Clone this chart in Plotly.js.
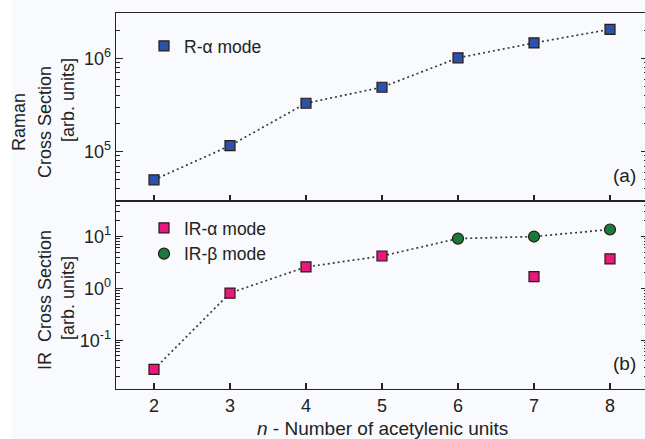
<!DOCTYPE html>
<html>
<head>
<meta charset="utf-8">
<script src="https://cdn.plot.ly/plotly-3.0.1.min.js"></script>
<style>
html,body{margin:0;padding:0;background:#f9fafd;overflow:hidden;}
#chart{width:650px;height:439px;}
</style>
</head>
<body>
<div id="chart"></div>
<script>
// ---- data ----
const nUnits = [2, 3, 4, 5, 6, 7, 8];
const ramanAlpha = [5.0e4, 1.16e5, 3.3e5, 4.9e5, 1.01e6, 1.46e6, 2.04e6];
const irAlpha = [0.0275, 0.81, 2.58, 4.2, null, 1.68, 3.69];
const irBeta = [null, null, null, null, 9.1, 9.95, 13.6];
const ramanTickVals = [1e5, 1e6];
const ramanTickText = ['10<sup>5</sup>', '10<sup>6</sup>'];
const irTickVals = [0.1, 1, 10];
const irTickText = ['10<sup>-1</sup>', '10<sup>0</sup>', '10<sup>1</sup>'];

const irTrend = nUnits.map((n, i) => irBeta[i] !== null ? irBeta[i] : irAlpha[i]);

const FONT = 'Liberation Sans, Arial, sans-serif';
const AX = '#2a2220';
const W = 650, H = 439, ML = 116, MR = 2, MT = 13, MB = 50;
const PW = W - ML - MR, PH = H - MT - MB;
const px = x => (x - ML) / PW;
const py = y => (H - MB - y) / PH;
const RRANGE = [4.472, 6.485], IRANGE = [-1.94, 1.683];

const dotLine = {color: '#3a3a3a', width: 1.7, dash: '2px,3px'};

const traces = [
  {x: nUnits, y: ramanAlpha, xaxis: 'x', yaxis: 'y', mode: 'lines', line: dotLine, showlegend: false, hoverinfo: 'skip'},
  {x: nUnits, y: ramanAlpha, xaxis: 'x', yaxis: 'y', mode: 'markers', name: 'R-α mode', legend: 'legend',
   marker: {symbol: 'square', size: 10, color: '#2b52a8', line: {color: '#2a1a14', width: 1.2}}},
  {x: nUnits, y: irTrend, xaxis: 'x2', yaxis: 'y2', mode: 'lines', line: dotLine, showlegend: false, hoverinfo: 'skip'},
  {x: nUnits, y: irAlpha, xaxis: 'x2', yaxis: 'y2', mode: 'markers', name: 'IR-α mode', legend: 'legend2',
   marker: {symbol: 'square', size: 10, color: '#e8187e', line: {color: '#2a1a14', width: 1.2}}},
  {x: nUnits, y: irBeta, xaxis: 'x2', yaxis: 'y2', mode: 'markers', name: 'IR-β mode', legend: 'legend2',
   marker: {symbol: 'circle', size: 11, color: '#1a7a3c', line: {color: '#2a1a14', width: 1.2}}}
];

const xBase = {
  range: [1.5, 8.5], domain: [0, 1], showgrid: false, zeroline: false,
  showline: true, linecolor: AX, linewidth: 1.4, mirror: true,
  ticks: 'inside', ticklen: 6, tickwidth: 1.3, tickcolor: AX,
  tickvals: nUnits, ticktext: nUnits.map(String),
  tickfont: {family: FONT, size: 18, color: '#222'}
};
// primary log axes: line, major and minor ticks (no labels)
const yBase = {
  type: 'log', showgrid: false, zeroline: false,
  showline: true, linecolor: AX, linewidth: 1.4, mirror: 'ticks',
  tickmode: 'linear', tick0: 0, dtick: 1,
  ticks: 'inside', ticklen: 7, tickwidth: 1.3, tickcolor: AX,
  showticklabels: false,
  minor: {ticks: 'inside', ticklen: 4, tickwidth: 1, tickcolor: AX, dtick: 'D1', showgrid: false}
};
// overlay axes carrying only the tick labels
const yLab = {
  type: 'log', showgrid: false, zeroline: false, showline: false,
  tickmode: 'array', ticks: '', side: 'left', ticklabelstandoff: 4,
  tickfont: {family: FONT, size: 18, color: '#222'}
};

const ann = (text, x, y, opts) => Object.assign({
  text: text, xref: 'paper', yref: 'paper', x: px(x), y: py(y),
  xanchor: 'center', yanchor: 'middle', showarrow: false,
  font: {family: FONT, size: 18, color: '#222'}
}, opts || {});

const layout = {
  width: W, height: H,
  margin: {l: ML, r: MR, t: MT, b: MB},
  paper_bgcolor: '#f9fafd', plot_bgcolor: '#f9fafd',
  xaxis: Object.assign({}, xBase, {anchor: 'y', showticklabels: false}),
  xaxis2: Object.assign({}, xBase, {anchor: 'y2', showticklabels: true}),
  yaxis: Object.assign({}, yBase, {domain: [0.5, 1], anchor: 'x', range: RRANGE}),
  yaxis2: Object.assign({}, yBase, {domain: [0, 0.5], anchor: 'x2', range: IRANGE}),
  yaxis3: Object.assign({}, yLab, {domain: [0.5, 1], anchor: 'x', overlaying: 'y', range: RRANGE, tickvals: ramanTickVals, ticktext: ramanTickText}),
  yaxis4: Object.assign({}, yLab, {domain: [0, 0.5], anchor: 'x2', overlaying: 'y2', range: IRANGE, tickvals: irTickVals, ticktext: irTickText}),
  legend: {x: px(144), y: py(28), xanchor: 'left', yanchor: 'top', bgcolor: 'rgba(0,0,0,0)',
           font: {family: FONT, size: 17.5, color: '#222'}},
  legend2: {x: px(144), y: py(210), xanchor: 'left', yanchor: 'top', bgcolor: 'rgba(0,0,0,0)',
            font: {family: FONT, size: 17.5, color: '#222'}, tracegroupgap: 0},
  shapes: [
    {type: 'rect', xref: 'paper', yref: 'paper', x0: px(0), x1: px(12), y0: py(H), y1: py(0),
     fillcolor: '#ffffff', line: {width: 0}, layer: 'below'}
  ],
  annotations: [
    ann('Raman', 19, 122, {textangle: -90}),
    ann('Cross Section', 45, 122, {textangle: -90}),
    ann('[arb. units]', 68, 100, {textangle: -90}),
    ann('IR  Cross Section', 45, 300, {textangle: -90}),
    ann('[arb. units]', 68, 298, {textangle: -90}),
    ann('<i>n</i> - Number of acetylenic units', 382, 428, {font: {family: FONT, size: 19, color: '#222'}}),
    ann('(a)', 624, 176, {font: {family: FONT, size: 19, color: '#222'}}),
    ann('(b)', 624, 363, {font: {family: FONT, size: 19, color: '#222'}})
  ]
};

traces.push({x: nUnits, y: ramanAlpha, xaxis: 'x', yaxis: 'y3', mode: 'markers', marker: {opacity: 0}, showlegend: false, hoverinfo: 'skip'});
traces.push({x: nUnits, y: irTrend, xaxis: 'x2', yaxis: 'y4', mode: 'markers', marker: {opacity: 0}, showlegend: false, hoverinfo: 'skip'});

Plotly.newPlot('chart', traces, layout, {displayModeBar: false, staticPlot: true});
</script>
</body>
</html>
